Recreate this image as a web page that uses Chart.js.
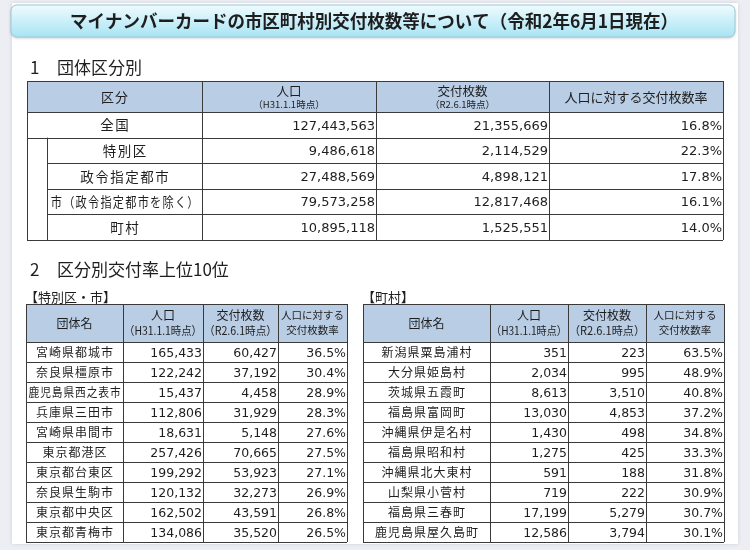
<!DOCTYPE html>
<html lang="ja">
<head>
<meta charset="utf-8">
<script src="https://cdn.jsdelivr.net/npm/chart.js@4.4.1/dist/chart.umd.min.js"></script>
<style>
  html, body { margin: 0; padding: 0; background: #eceef3; }
  #wrap { width: 750px; height: 550px; }
</style>
</head>
<body>
<div id="wrap"><canvas id="table" width="750" height="550"></canvas></div>
<script>
// 1 団体区分別
var summaryCategories = ['全国', '特別区', '政令指定都市', '市（政令指定都市を除く）', '町村'];
var summaryPopulation = [127443563, 9486618, 27488569, 79573258, 10895118];
var summaryIssued = [21355669, 2114529, 4898121, 12817468, 1525551];
var summaryRate = [16.8, 22.3, 17.8, 16.1, 14.0];

// 2 区分別交付率上位10位 【特別区・市】
var cityNames = ['宮崎県都城市', '奈良県橿原市', '鹿児島県西之表市', '兵庫県三田市', '宮崎県串間市',
                 '東京都港区', '東京都台東区', '奈良県生駒市', '東京都中央区', '東京都青梅市'];
var cityPopulation = [165433, 122242, 15437, 112806, 18631, 257426, 199292, 120132, 162502, 134086];
var cityIssued = [60427, 37192, 4458, 31929, 5148, 70665, 53923, 32273, 43591, 35520];
var cityRate = [36.5, 30.4, 28.9, 28.3, 27.6, 27.5, 27.1, 26.9, 26.8, 26.5];

// 【町村】
var townNames = ['新潟県粟島浦村', '大分県姫島村', '茨城県五霞町', '福島県富岡町', '沖縄県伊是名村',
                 '福島県昭和村', '沖縄県北大東村', '山梨県小菅村', '福島県三春町', '鹿児島県屋久島町'];
var townPopulation = [351, 2034, 8613, 13030, 1430, 1275, 591, 719, 17199, 12586];
var townIssued = [223, 995, 3510, 4853, 498, 425, 188, 222, 5279, 3794];
var townRate = [63.5, 48.9, 40.8, 37.2, 34.8, 33.3, 31.8, 30.9, 30.7, 30.1];

var FONT_JP = '"Noto Sans CJK JP", "Noto Sans", sans-serif';
var FONT_NUM = '"DejaVu Sans", Verdana, sans-serif';
var HEAD_FILL = '#b9cde5';
var LINE = '#3a3a3a';
var INK = '#1e1e1e';

function fmt(n) { return n.toLocaleString('en-US'); }
function pct(n) { return n.toFixed(1) + '%'; }

var tablePlugin = {
  id: 'tablePlugin',
  afterDraw: function (chart) {
    var ctx = chart.ctx;
    var X = function (v) { return chart.scales.x.getPixelForValue(v); };
    var Y = function (v) { return chart.scales.y.getPixelForValue(v); };

    // spacing: extra letter spacing in px (names in the source are spaced out)
    function text(str, x, y, font, align, maxW, spacing) {
      ctx.font = font;
      ctx.fillStyle = INK;
      ctx.textAlign = align || 'center';
      ctx.textBaseline = 'middle';
      ctx.letterSpacing = (spacing || 0) + 'px';
      var px = X(x) + (spacing && (align || 'center') === 'center' ? spacing / 2 : 0);
      if (maxW) ctx.fillText(str, px, Y(y), maxW);
      else ctx.fillText(str, px, Y(y));
      ctx.letterSpacing = '0px';
    }
    function hline(x0, x1, y) {
      ctx.beginPath();
      ctx.moveTo(X(x0), Math.round(Y(y)) + 0.5);
      ctx.lineTo(X(x1), Math.round(Y(y)) + 0.5);
      ctx.stroke();
    }
    function vline(x, y0, y1) {
      ctx.beginPath();
      ctx.moveTo(Math.round(X(x)) + 0.5, Y(y0));
      ctx.lineTo(Math.round(X(x)) + 0.5, Y(y1));
      ctx.stroke();
    }
    function fillRect(x0, y0, x1, y1, color) {
      ctx.fillStyle = color;
      ctx.fillRect(X(x0), Y(y0), X(x1) - X(x0), Y(y1) - Y(y0));
    }

    ctx.save();

    // white card
    ctx.shadowColor = 'rgba(0,0,0,0.12)';
    ctx.shadowBlur = 4;
    fillRect(12, 3, 738, 544, '#ffffff');
    ctx.shadowColor = 'transparent';

    // title bar
    var g = ctx.createLinearGradient(0, Y(5), 0, Y(37));
    g.addColorStop(0, '#eefbfe');
    g.addColorStop(1, '#a8e4f4');
    ctx.shadowColor = 'rgba(0,0,0,0.25)';
    ctx.shadowBlur = 3;
    ctx.shadowOffsetY = 1;
    ctx.beginPath();
    ctx.roundRect(X(11), Y(5), X(735) - X(11), Y(37) - Y(5), 6);
    ctx.fillStyle = g;
    ctx.fill();
    ctx.shadowColor = 'transparent';
    ctx.strokeStyle = '#9fc9d6';
    ctx.lineWidth = 1;
    ctx.stroke();
    text('マイナンバーカードの市区町村別交付枚数等について（令和2年6月1日現在）', 374, 21,
      'bold 18px ' + FONT_JP, 'center', 608);

    // ---- 1 団体区分別 ----
    text('1', 30, 68, '17px ' + FONT_JP, 'left');
    text('団体区分別', 57, 68, '17px ' + FONT_JP, 'left');

    var c1 = [27, 202, 376, 549, 723];
    var sub = 47;
    var r1Top = 81, r1Head = 112;
    var r1H = (240 - r1Head) / summaryCategories.length;
    var r1Bottom = r1Head + r1H * summaryCategories.length;

    fillRect(c1[0], r1Top, c1[4], r1Head, HEAD_FILL);
    text('区分', (c1[0] + c1[1]) / 2, 97, '13px ' + FONT_JP, 'center', 0, 1);
    text('人口', (c1[1] + c1[2]) / 2, 91, '12.5px ' + FONT_JP);
    text('（H31.1.1時点）', (c1[1] + c1[2]) / 2, 104, '9.5px ' + FONT_JP);
    text('交付枚数', (c1[2] + c1[3]) / 2, 91, '12.5px ' + FONT_JP);
    text('（R2.6.1時点）', (c1[2] + c1[3]) / 2, 104, '9.5px ' + FONT_JP);
    text('人口に対する交付枚数率', (c1[3] + c1[4]) / 2, 97, '13px ' + FONT_JP);

    summaryCategories.forEach(function (name, i) {
      var yc = r1Head + r1H * (i + 0.5) + 0.5;
      var left = i === 0 ? c1[0] : sub;
      text(name, (left + c1[1]) / 2, yc, '13.5px ' + FONT_JP, 'center', c1[1] - left - 6, 1.5);
      text(fmt(summaryPopulation[i]), c1[2] - 1, yc + 1, '13px ' + FONT_NUM, 'right');
      text(fmt(summaryIssued[i]), c1[3] - 1, yc + 1, '13px ' + FONT_NUM, 'right');
      text(pct(summaryRate[i]), c1[4] - 1, yc + 1, '13px ' + FONT_NUM, 'right');
    });

    ctx.strokeStyle = LINE;
    ctx.lineWidth = 1;
    hline(c1[0], c1[4], r1Top);
    hline(c1[0], c1[4], r1Head);
    hline(c1[0], c1[4], r1Head + r1H);
    for (var k = 2; k < summaryCategories.length; k++) hline(sub, c1[4], r1Head + r1H * k);
    hline(c1[0], c1[4], r1Bottom);
    c1.forEach(function (x) { vline(x, r1Top, r1Bottom); });
    vline(sub, r1Head + r1H, r1Bottom);

    // ---- 2 区分別交付率上位10位 ----
    text('2', 30, 270, '17px ' + FONT_JP, 'left');
    text('区分別交付率上位10位', 57, 270, '17px ' + FONT_JP, 'left');

    function rankTable(label, cols, names, pop, issued, rate) {
      var top = 304, head = 342, rowH = 20;
      var bottom = head + rowH * names.length;
      text(label, cols[0] - 1, 297, '13px ' + FONT_JP, 'left');
      fillRect(cols[0], top, cols[4], head, HEAD_FILL);
      text('団体名', (cols[0] + cols[1]) / 2, 323, '12px ' + FONT_JP);
      text('人口', (cols[1] + cols[2]) / 2, 315, '12px ' + FONT_JP);
      text('（H31.1.1時点）', (cols[1] + cols[2]) / 2, 331, '11.5px ' + FONT_JP, 'center', cols[2] - cols[1] - 2);
      text('交付枚数', (cols[2] + cols[3]) / 2, 315, '12px ' + FONT_JP);
      text('（R2.6.1時点）', (cols[2] + cols[3]) / 2, 331, '11.5px ' + FONT_JP, 'center', cols[3] - cols[2] - 2);
      text('人口に対する', (cols[3] + cols[4]) / 2, 315, '10.5px ' + FONT_JP);
      text('交付枚数率', (cols[3] + cols[4]) / 2, 330, '10.5px ' + FONT_JP);

      names.forEach(function (name, i) {
        var yc = head + rowH * (i + 0.5) + 0.5;
        text(name, (cols[0] + cols[1]) / 2, yc, '12px ' + FONT_JP, 'center', cols[1] - cols[0] - 4, 1);
        text(fmt(pop[i]), cols[2] - 1, yc + 1, '12.5px ' + FONT_NUM, 'right');
        text(fmt(issued[i]), cols[3] - 1, yc + 1, '12.5px ' + FONT_NUM, 'right');
        text(pct(rate[i]), cols[4] - 1, yc + 1, '12.5px ' + FONT_NUM, 'right');
      });

      ctx.strokeStyle = LINE;
      ctx.lineWidth = 1;
      hline(cols[0], cols[4], top);
      for (var j = 0; j <= names.length; j++) hline(cols[0], cols[4], head + rowH * j);
      cols.forEach(function (x) { vline(x, top, bottom); });
    }

    rankTable('【特別区・市】', [26, 123, 203, 278, 347], cityNames, cityPopulation, cityIssued, cityRate);
    rankTable('【町村】', [363, 490, 568, 646, 724], townNames, townPopulation, townIssued, townRate);

    ctx.restore();
  }
};

new Chart(document.getElementById('table'), {
  type: 'scatter',
  data: { datasets: [] },
  options: {
    responsive: false,
    animation: false,
    events: [],
    layout: { padding: 0 },
    plugins: { legend: { display: false }, tooltip: { enabled: false } },
    scales: {
      x: { type: 'linear', min: 0, max: 750, display: false },
      y: { type: 'linear', min: 0, max: 550, reverse: true, display: false }
    }
  },
  plugins: [tablePlugin]
});
</script>
</body>
</html>
